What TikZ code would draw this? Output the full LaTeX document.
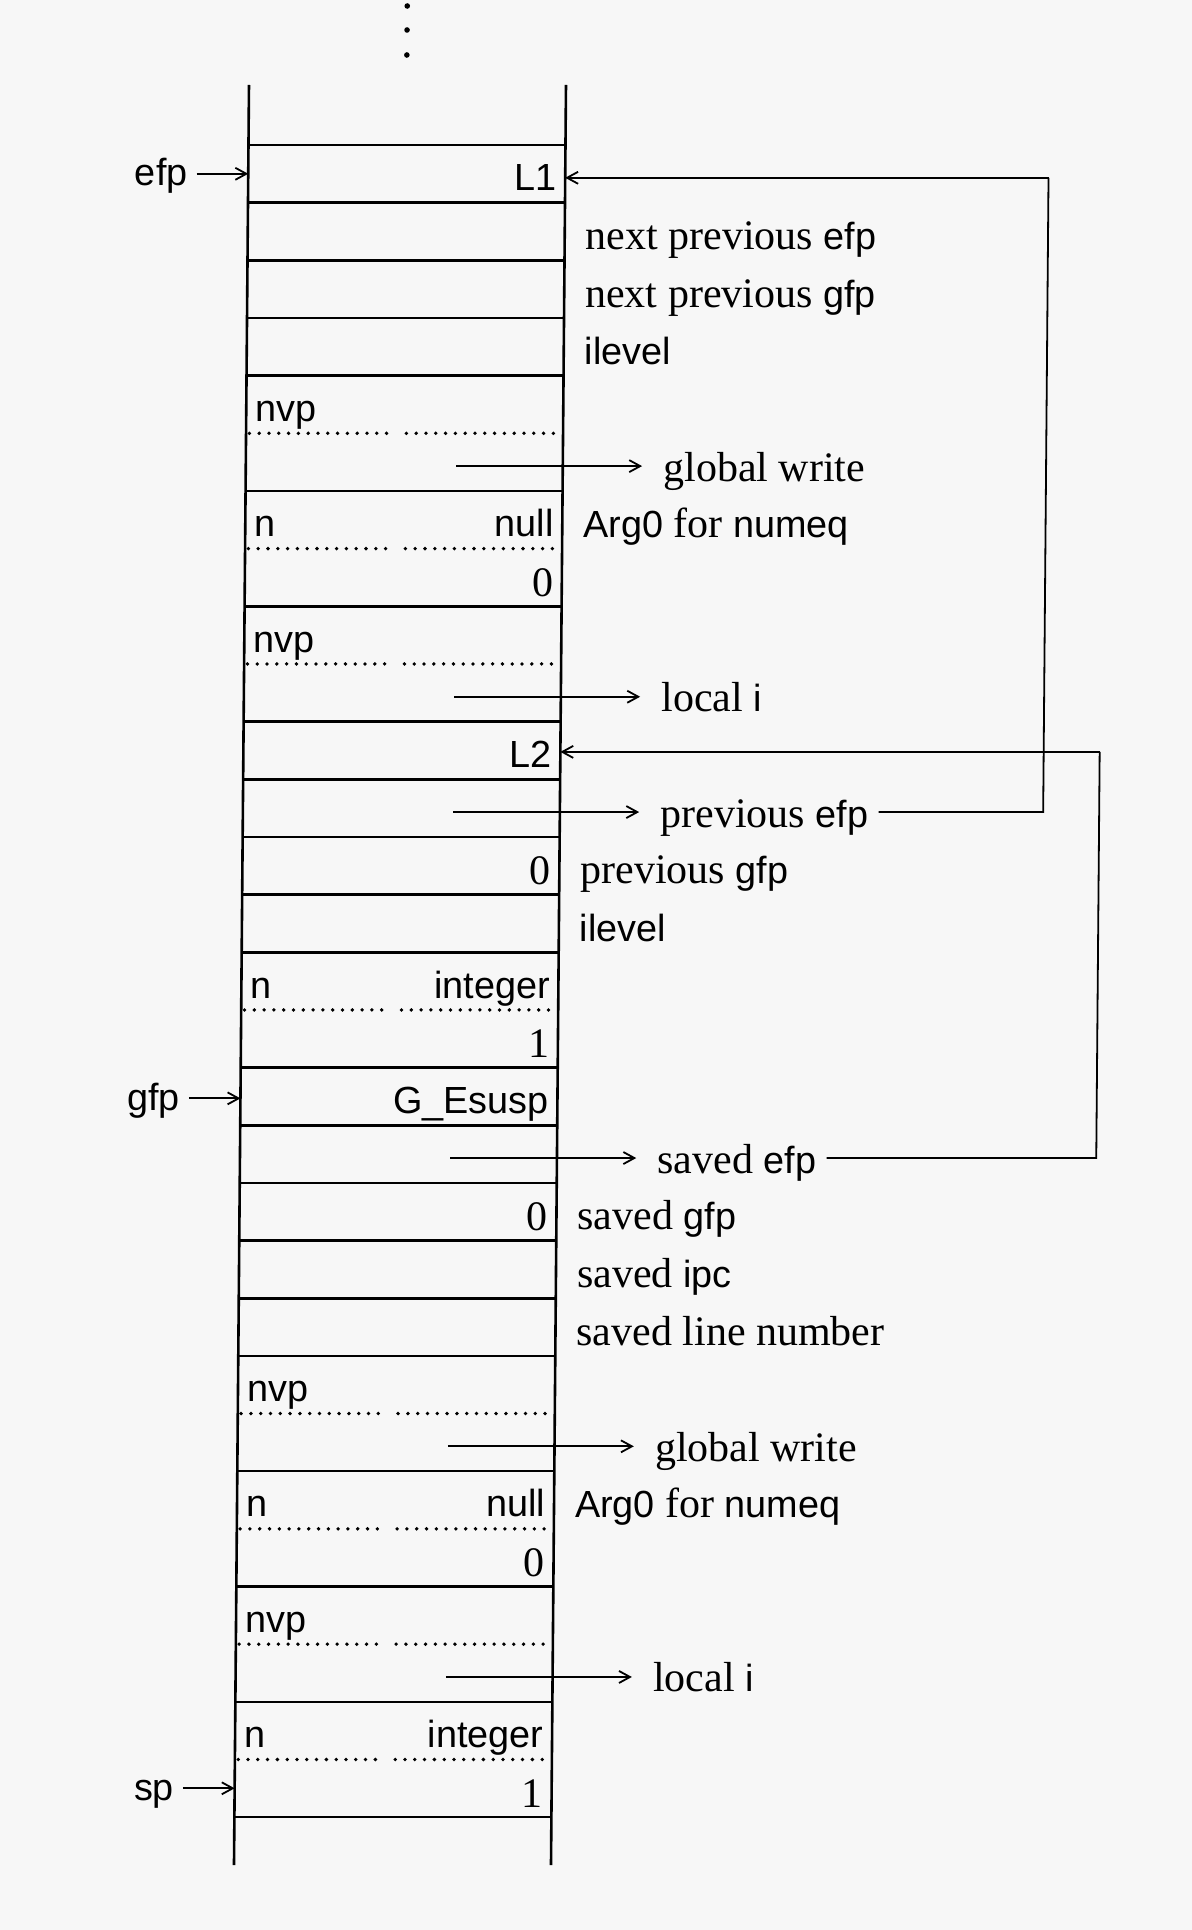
\documentclass[tikz,border=0pt]{standalone}
\usepackage{fontspec}
\setmainfont{Liberation Serif}
\newfontfamily\lsans{Liberation Sans}
\usetikzlibrary{arrows.meta}
\newcommand\sa[1]{{\fontsize{18.9}{22}\selectfont\lsans #1}}
\def\C#1{(173.8+57.66*(#1))}
\def\Lk#1{(145+57.66*(#1))}
\begin{document}
\begin{tikzpicture}[x=0.5pt,y=-0.5pt,
  col/.style={line width=1.3pt},
  dotline/.style={line width=1.9pt, dash pattern=on 0pt off 4.9pt, line cap=round},
  arr/.style={line width=0.9pt, -{Straight Barb[length=5.5pt,width=6pt,line width=0.9pt]}},
  lnk/.style={line width=0.9pt},
  sansR/.style={anchor=base east, inner sep=0pt, font=\fontsize{18.9}{22}\selectfont\lsans},
  sansL/.style={anchor=base west, inner sep=0pt, font=\fontsize{18.9}{22}\selectfont\lsans},
  numR/.style={anchor=base east, inner sep=0pt, font=\fontsize{21}{24}\selectfont},
  lab/.style={anchor=base west, inner sep=0pt, font=\fontsize{21}{24}\selectfont},
]
\fill[white!97!black] (0,0) rectangle (1192,1930);
\useasboundingbox (0,0) rectangle (1192,1930);
\begin{scope}[xslant=0.00843]
% ellipsis
\fill (407.3,6) circle (1.4pt);
\fill (407.3,30) circle (1.4pt);
\fill (407.3,55) circle (1.4pt);
% column
\draw[col] (249.7,85) -- (249.7,1865);
\draw[col] (566.7,85) -- (566.7,1865);
\foreach \k in {0,1,2,3,4,6,8,10,11,12,13,14,16,17,18,19,20,21,23,25,27,29}
  \draw[col] (249.7,{\Lk{\k}}) -- (566.7,{\Lk{\k}});
\foreach \k in {5,7,9,15,22,24,26,28}{
  \draw[dotline] (253,{\Lk{\k}}) -- (396,{\Lk{\k}});
  \draw[dotline] (410,{\Lk{\k}}) -- (564,{\Lk{\k}});
}
% cell texts, right aligned sans
\node[sansR] (c0)  at (558.5,{\C{0}+17})  {L1};
\node[sansR] (c6)  at (558.5,{\C{6}+17})  {null};
\node[sansR] (c10) at (558.5,{\C{10}+17}) {L2};
\node[sansR] (c14) at (558.5,{\C{14}+17}) {integer};
\node[sansR] (c16) at (558.5,{\C{16}+17}) {G\_Esusp};
\node[sansR] (c23) at (558.5,{\C{23}+17}) {null};
\node[sansR] (c27) at (558.5,{\C{27}+17}) {integer};
% numbers
\node[numR] (n7)  at (558.5,{\C{7}+19})  {0};
\node[numR] (n12) at (558.5,{\C{12}+19}) {0};
\node[numR] (n15) at (558.5,{\C{15}+19}) {1};
\node[numR] (n18) at (558.5,{\C{18}+19}) {0};
\node[numR] (n24) at (558.5,{\C{24}+19}) {0};
\node[numR] (n28) at (558.5,{\C{28}+19}) {1};
% left aligned sans
\node[sansL] (l4)  at (258.5,{\C{4}+17})  {nvp};
\node[sansL] (l6)  at (258.5,{\C{6}+17})  {n};
\node[sansL] (l8)  at (258.5,{\C{8}+17})  {nvp};
\node[sansL] (l14) at (258.5,{\C{14}+17}) {n};
\node[sansL] (l21) at (258.5,{\C{21}+17}) {nvp};
\node[sansL] (l23) at (258.5,{\C{23}+17}) {n};
\node[sansL] (l25) at (258.5,{\C{25}+17}) {nvp};
\node[sansL] (l27) at (258.5,{\C{27}+17}) {n};
% right side labels
\node[lab] (d1)  at (587.5,{\C{1}+18})  {next previous \sa{efp}};
\node[lab] (d2)  at (587.5,{\C{2}+18})  {next previous \sa{gfp}};
\node[lab] (d3)  at (587.5,{\C{3}+18})  {\sa{ilevel}};
\node[lab] (d6)  at (587.5,{\C{6}+18})  {\sa{Arg0} for \sa{numeq}};
\node[lab] (d12) at (587.5,{\C{12}+18}) {previous \sa{gfp}};
\node[lab] (d13) at (587.5,{\C{13}+18}) {\sa{ilevel}};
\node[lab] (d18) at (587.5,{\C{18}+18}) {saved \sa{gfp}};
\node[lab] (d19) at (587.5,{\C{19}+18}) {saved \sa{ipc}};
\node[lab] (d20) at (587.5,{\C{20}+18}) {saved line number};
\node[lab] (d23) at (587.5,{\C{23}+18}) {\sa{Arg0} for \sa{numeq}};
% arrow labels
\node[lab] (g5)  at (667,{\C{5}+19})  {global write};
\node[lab] (g9)  at (667,{\C{9}+19})  {local \sa{i}};
\node[lab] (g11) at (667,{\C{11}+19}) {previous \sa{efp}};
\node[lab] (g17) at (667,{\C{17}+19}) {saved \sa{efp}};
\node[lab] (g22) at (667,{\C{22}+19}) {global write};
\node[lab] (g26) at (667,{\C{26}+19}) {local \sa{i}};
% inner arrows
\foreach \r in {5,9,11,17,22,26}{
  \coordinate (s\r) at (460,{\C{\r}+4});
  \coordinate (e\r) at (646,{\C{\r}+4});
  \draw[arr] (s\r) -- (e\r);
}
% pointer labels
\node[sansR] (pe) at (189.5,{\C{0}+12})  {efp};
\node[sansR] (pg) at (189.5,{\C{16}+14}) {gfp};
\node[sansR] (ps) at (189.5,{\C{28}+12}) {sp};
\coordinate (pe1) at (198,{\C{0}});
\coordinate (pe2) at (249.7,{\C{0}});
\coordinate (pg1) at (198,{\C{16}+2});
\coordinate (pg2) at (249.7,{\C{16}+2});
\coordinate (ps1) at (198,{\C{28}});
\coordinate (ps2) at (249.7,{\C{28}});
\draw[arr] (pe1) -- (pe2);
\draw[arr] (pg1) -- (pg2);
\draw[arr] (ps1) -- (ps2);
% loop 1: previous efp -> L1
\path (g11.east) ++(5pt,0) coordinate (o11);
\coordinate (k1b) at (1050,{\C{11}+4});
\coordinate (k1t) at (1050,{\C{0}+4});
\coordinate (t0) at (566.7,{\C{0}+4});
\draw[lnk] (o11 |- e11) -- (k1b) -- (k1t);
\draw[arr] (k1t) -- (t0);
% loop 2: saved efp -> L2
\path (g17.east) ++(5pt,0) coordinate (o17);
\coordinate (k2b) at (1106,{\C{17}+4});
\coordinate (k2t) at (1106,{\C{10}+1.5});
\coordinate (t10) at (566.7,{\C{10}+1.5});
\draw[lnk] (o17 |- e17) -- (k2b) -- (k2t);
\draw[arr] (k2t) -- (t10);
\end{scope}
\end{tikzpicture}
\end{document}
